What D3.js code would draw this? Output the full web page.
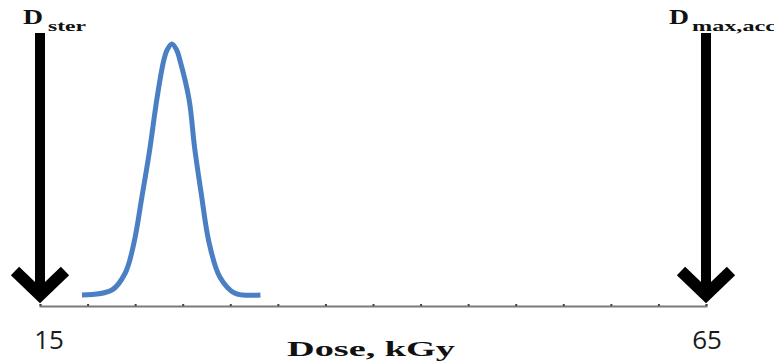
<!DOCTYPE html>
<html>
<head>
<meta charset="utf-8">
<script src="https://cdn.jsdelivr.net/npm/d3@7"></script>
<style>
	html, body { margin: 0; padding: 0; background: #fff; }
	svg { display: block; }
	.serif { font-family: "Liberation Serif", "DejaVu Serif", serif; font-weight: bold; fill: #111; }
	.num { font-family: "Open Sans", "Liberation Sans", sans-serif; fill: #1a1a1a; }
</style>
</head>
<body>
<div id="chart"></div>
<script>
"use strict";

// dose range of the axis, kGy
var doseDomain = [15, 65];
var tickIntervals = 14;
var tickLabels = [15, 65];

// dose distribution (relative height)
var curveDose = [18.15, 20.4, 21.4, 22.05, 22.65, 23.2, 23.8, 24.3, 24.55, 24.9, 25.25, 25.5, 26.2, 26.6, 27.1, 27.7, 28.5, 29.6, 31.55];
var curveValue = [0.042, 0.061, 0.126, 0.24, 0.416, 0.584, 0.798, 0.939, 0.978, 1.0, 0.978, 0.939, 0.786, 0.607, 0.431, 0.24, 0.111, 0.05, 0.042];

// limits marked with arrows
var markerDose = [15, 65];
var markerMain = ["D", "D"];
var markerSub = ["ster", "max,acc"];

var xTitle = "Dose, kGy";

var width = 774, height = 364;

var svg = d3.select("#chart").append("svg")
	.attr("width", width)
	.attr("height", height);

var x = d3.scaleLinear().domain(doseDomain).range([40, 706]);
var y = d3.scaleLinear().domain([0, 1]).range([306, 44]);

// axis line with little tick dots
var tickValues = d3.range(tickIntervals + 1).map(function(i) {
	return doseDomain[0] + i * (doseDomain[1] - doseDomain[0]) / tickIntervals;
});
var axis = svg.append("g")
	.attr("transform", "translate(0," + y(0) + ")")
	.call(d3.axisTop(x).tickValues(tickValues).tickSize(2).tickFormat(""));
axis.select(".domain")
	.attr("stroke", "#7a7a7a")
	.attr("stroke-width", 2);
axis.selectAll(".tick line")
	.attr("stroke", "#444")
	.attr("stroke-width", 2);

// tick labels, only the ends
svg.selectAll("text.num")
	.data(tickLabels)
	.enter().append("text")
	.attr("class", "num")
	.attr("x", function(d, i) { return x(d) + (i === 0 ? 9 : 1); })
	.attr("y", 349)
	.attr("text-anchor", "middle")
	.style("font-size", "26px")
	.text(function(d) { return d; });

svg.append("text")
	.attr("class", "serif")
	.attr("x", 287)
	.attr("y", 356)
	.attr("textLength", 168)
	.attr("lengthAdjust", "spacingAndGlyphs")
	.style("font-size", "21px")
	.text(xTitle);

// distribution curve
var points = curveDose.map(function(d, i) { return [d, curveValue[i]]; });
var line = d3.line()
	.x(function(d) { return x(d[0]); })
	.y(function(d) { return y(d[1]); })
	.curve(d3.curveCatmullRom.alpha(0.5));

svg.append("path")
	.datum(points)
	.attr("d", line)
	.attr("fill", "none")
	.attr("stroke", "#4a7fc4")
	.attr("stroke-width", 5)
	.attr("stroke-linecap", "butt");

// arrows
var tipY = 304;
var markers = svg.selectAll("g.marker")
	.data(markerDose)
	.enter().append("g")
	.attr("class", "marker")
	.attr("transform", function(d) { return "translate(" + x(d) + ",0)"; });

markers.append("line")
	.attr("x1", 0).attr("x2", 0)
	.attr("y1", 33).attr("y2", tipY - 12)
	.attr("stroke", "#000")
	.attr("stroke-width", 10);

markers.append("path")
	.attr("d", "M-25," + (tipY - 33) + "L0," + (tipY - 9) + "L25," + (tipY - 33))
	.attr("fill", "none")
	.attr("stroke", "#000")
	.attr("stroke-width", 12)
	.attr("stroke-linejoin", "miter");

markers.append("text")
	.attr("class", "serif")
	.attr("x", function(d, i) { return i === 0 ? -17 : -37; })
	.attr("y", 24)
	.attr("textLength", 20)
	.attr("lengthAdjust", "spacingAndGlyphs")
	.style("font-size", "21px")
	.text(function(d, i) { return markerMain[i]; });

markers.append("text")
	.attr("class", "serif")
	.attr("x", function(d, i) { return i === 0 ? 8 : -14; })
	.attr("y", 31)
	.attr("textLength", function(d, i) { return i === 0 ? 38 : 84; })
	.attr("lengthAdjust", "spacingAndGlyphs")
	.style("font-size", "14px")
	.text(function(d, i) { return markerSub[i]; });
</script>
</body>
</html>
